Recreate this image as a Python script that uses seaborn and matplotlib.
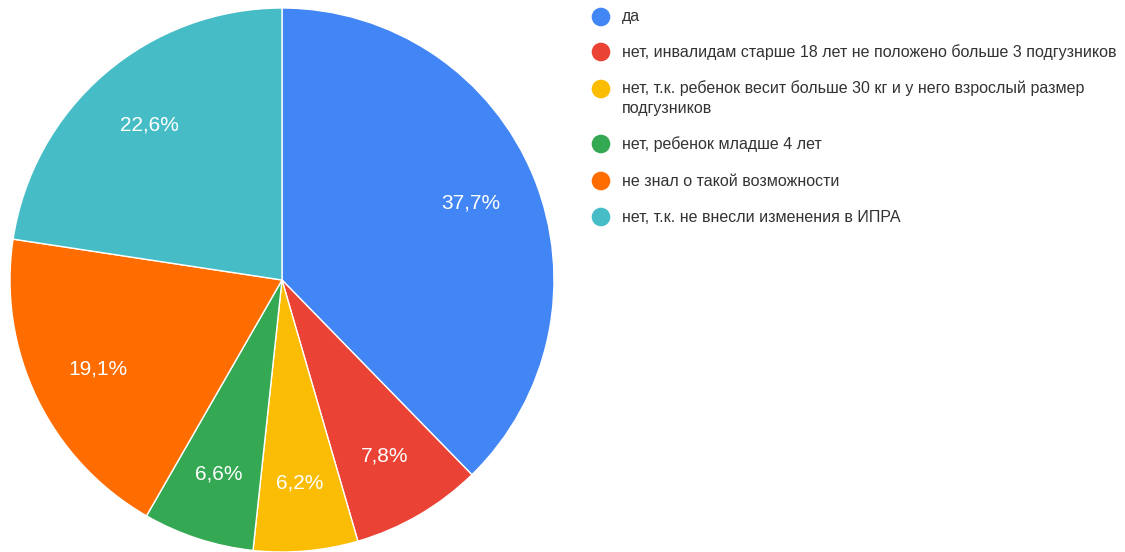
import matplotlib
matplotlib.use("Agg")
import matplotlib.pyplot as plt
import seaborn as sns

labels = [
    "да",
    "нет, инвалидам старше 18 лет не положено больше 3 подгузников",
    "нет, т.к. ребенок весит больше 30 кг и у него взрослый размер\nподгузников",
    "нет, ребенок младше 4 лет",
    "не знал о такой возможности",
    "нет, т.к. не внесли изменения в ИПРА",
]
values = [37.7, 7.8, 6.2, 6.6, 19.1, 22.6]
colors = ["#4285F4", "#EA4335", "#FBBC04", "#34A853", "#FF6D01", "#46BDC6"]

sns.set_theme(style="white")
plt.rcParams["font.family"] = ["Liberation Sans", "DejaVu Sans"]

W, H = 1125, 552
fig = plt.figure(figsize=(W / 100, H / 100), dpi=100)
fig.patch.set_facecolor("white")

cx, cy, r = 282, 280, 272
ax = fig.add_axes([(cx - r) / W, (H - cy - r) / H, 2 * r / W, 2 * r / H])
wedges, texts, autotexts = ax.pie(
    values,
    colors=colors,
    startangle=90,
    counterclock=False,
    radius=1,
    pctdistance=0.75,
    autopct=lambda p: f"{p:.1f}%".replace(".", ","),
    wedgeprops=dict(edgecolor="white", linewidth=1),
    textprops=dict(color="white", fontsize=15),
)
ax.set_xlim(-1, 1)
ax.set_ylim(-1, 1)
ax.set_aspect("equal")
ax.axis("off")

# legend
lax = fig.add_axes([0, 0, 1, 1])
lax.set_xlim(0, W)
lax.set_ylim(H, 0)
lax.axis("off")
ys = [17, 52, 89, 144, 181, 217]
for lab, col, y in zip(labels, colors, ys):
    lax.scatter([601], [y], s=180, color=col, edgecolor="none")
    if "\n" in lab:
        lax.text(622, y - 9, lab, fontsize=11.5, color="#333333", va="top",
                 linespacing=1.45)
    else:
        lax.text(622, y, lab, fontsize=11.5, color="#333333", va="center")

fig.savefig("out.png", dpi=100, facecolor="white")
